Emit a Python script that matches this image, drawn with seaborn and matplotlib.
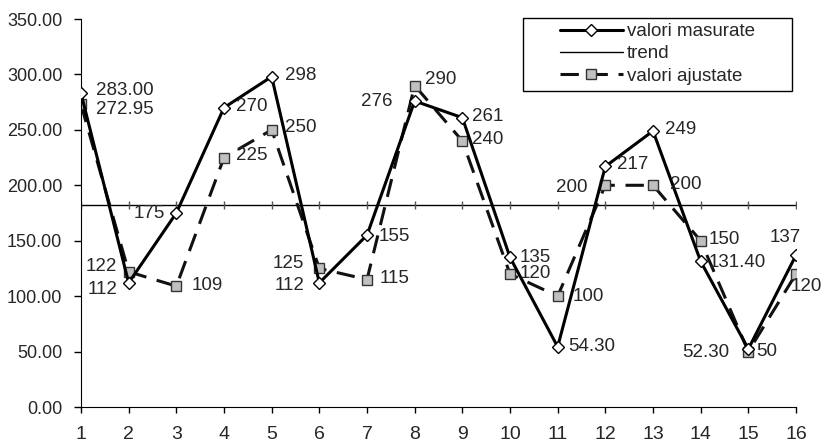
import numpy as np
import matplotlib
matplotlib.use("Agg")
import matplotlib.pyplot as plt
from matplotlib.patches import Rectangle
import seaborn as sns

perioade = list(range(1, 17))
valori_masurate = [283.00, 112, 175, 270, 298, 112, 155, 276, 261, 135, 54.30, 217, 249, 131.40, 52.30, 137]
valori_ajustate = [272.95, 122, 109, 225, 250, 125, 115, 290, 240, 120, 100, 200, 200, 150, 50, 120]
trend = [182.4] * 16
etichete_masurate = ["283.00", "112", "175", "270", "298", "112", "155", "276", "261", "135", "54.30", "217", "249", "131.40", "52.30", "137"]
etichete_ajustate = ["272.95", "122", "109", "225", "250", "125", "115", "290", "240", "120", "100", "200", "200", "150", "50", "120"]

# pozitia etichetelor: (dx, dy) in pixeli + aliniere
off_mas = [(15, 3, "left"), (-11, -7, "right"), (-11, -1, "right"), (12, 1, "left"),
           (13, 1, "left"), (-15, -3, "right"), (12, -1, "left"), (-22, 0, "right"),
           (10, 1, "left"), (10, 0, "left"), (11, 0, "left"), (12, 2, "left"),
           (12, 1, "left"), (8, -1, "left"), (-19, -3, "right"), (-11, 18, "center")]
off_aj = [(15, -5, "left"), (-12, 5, "right"), (15, 1, "left"), (12, 2, "left"),
          (13, 2, "left"), (-15, 5, "right"), (13, 1, "left"), (10, 6, "left"),
          (10, 1, "left"), (10, 0, "left"), (15, 0, "left"), (-18, -2, "right"),
          (17, 1, "left"), (8, 1, "left"), (8, 0, "left"), (-5, -13, "left")]

sns.set_style("ticks")
plt.rcParams["font.family"] = ["Liberation Sans", "DejaVu Sans"]

fig, ax = plt.subplots(figsize=(8.26, 4.47), dpi=100)

sns.lineplot(x=perioade, y=valori_masurate, ax=ax, color="black", linewidth=2.2,
             marker="D", markersize=6, markerfacecolor="white", markeredgecolor="black",
             markeredgewidth=1, label="valori masurate", zorder=3)
sns.lineplot(x=perioade, y=trend, ax=ax, color="black", linewidth=1, label="trend",
             marker="|", markersize=6, markeredgewidth=1, markeredgecolor="#555555", zorder=2)
sns.lineplot(x=perioade, y=valori_ajustate, ax=ax, color="#111111", linewidth=2.2,
             marker="s", markersize=7, markerfacecolor="#c0c0c0", markeredgecolor="#333333",
             markeredgewidth=1, label="valori ajustate", zorder=2.5)
ax.lines[-1].set_dashes([6, 3.5])

for x, y, t, (dx, dy, ha) in zip(perioade, valori_masurate, etichete_masurate, off_mas):
    ax.annotate(t, (x, y), xytext=(dx, dy), textcoords="offset pixels",
                fontsize=13.5, va="center", ha=ha, annotation_clip=False)
for x, y, t, (dx, dy, ha) in zip(perioade, valori_ajustate, etichete_ajustate, off_aj):
    ax.annotate(t, (x, y), xytext=(dx, dy), textcoords="offset pixels",
                fontsize=13.5, va="center", ha=ha, annotation_clip=False)

ax.set_xlim(1, 16)
ax.set_ylim(0, 350)
ax.set_xticks(perioade)
ax.set_yticks(np.arange(0, 351, 50))
ax.yaxis.set_major_formatter(matplotlib.ticker.FormatStrFormatter("%.2f"))
ax.tick_params(axis="y", labelsize=13, length=5, width=1, color="black", pad=8.5)
ax.tick_params(axis="x", labelsize=14, length=4.5, width=1, color="black", pad=9)
for s in ["left", "bottom"]:
    ax.spines[s].set_color("black")
sns.despine(ax=ax)

plt.subplots_adjust(left=81 / 826, right=796 / 826, top=1 - 19 / 447, bottom=1 - 407 / 447)

# legenda: chenar desenat separat, linia de trend fara marcaje
h, l = ax.get_legend_handles_labels()
leg = ax.legend(h, l, loc="upper left", bbox_to_anchor=(560 / 826, 1 - 23 / 447),
                bbox_transform=fig.transFigure, fontsize=13.5, frameon=False,
                handlelength=3.35, borderpad=0, labelspacing=0.28, handletextpad=0.22,
                borderaxespad=0)
for line in leg.get_lines():
    if line.get_marker() == "|":
        line.set_marker("None")
fig.patches.append(Rectangle((523 / 826, 1 - 91 / 447), 269 / 826, 73 / 447,
                             transform=fig.transFigure, fill=False, edgecolor="black",
                             linewidth=1, zorder=5))

fig.savefig("out.png", dpi=100)
